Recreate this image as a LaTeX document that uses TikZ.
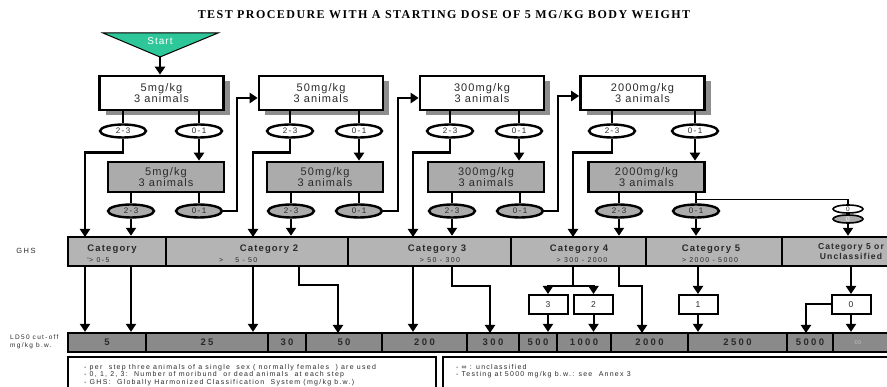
\documentclass[tikz,border=0pt]{standalone}
\usepackage{fontspec}
\setmainfont{Liberation Sans}
\newfontfamily\boxfont[LetterSpace=10]{Liberation Sans}
\newfontfamily\ovalfont[LetterSpace=18]{Liberation Sans}
\newfontfamily\catfont[LetterSpace=12]{Liberation Sans}
\newfontfamily\subfont[LetterSpace=20]{Liberation Sans}
\newfontfamily\numfont[LetterSpace=25]{Liberation Sans}
\newfontfamily\legfont[LetterSpace=18]{Liberation Sans}
\newfontfamily\titlefont[LetterSpace=12]{Liberation Serif}
\usetikzlibrary{arrows.meta,shapes.geometric,shadows}
\definecolor{startgreen}{HTML}{2EC79A}
\definecolor{boxgray}{HTML}{ABABAB}
\definecolor{catgray}{HTML}{B4B4B4}
\definecolor{ldgray}{HTML}{8A8A8A}
\definecolor{shadowgray}{HTML}{8E8E8E}
\definecolor{txt}{HTML}{2A2A2A}
\tikzset{
  line/.style={line width=2.4pt},
  arr/.style={line width=2.4pt,-{Triangle[width=10pt,length=8pt]}},
  line2/.style={line width=2pt},
  arr2/.style={line width=2pt,-{Triangle[width=10pt,length=8pt]}},
  thinline/.style={line width=1.2pt},
  wbox/.style={draw,line width=2.6pt,fill=white,minimum width=124pt,minimum height=34pt,inner sep=0pt,align=center,text=txt,
     font=\boxfont\fontsize{11}{10.5}\selectfont,
     general shadow={fill=shadowgray,shadow xshift=6pt,shadow yshift=-5pt}},
  gbox/.style={draw,line width=2.6pt,fill=boxgray,minimum width=116pt,minimum height=30pt,inner sep=0pt,align=center,text=txt,
     font=\boxfont\fontsize{11}{10.5}\selectfont},
  oval/.style={ellipse,draw,line width=2.4pt,fill=white,minimum width=46pt,minimum height=13pt,inner sep=0pt,text=txt,
     font=\ovalfont\fontsize{8}{8}\selectfont},
  goval/.style={oval,fill=boxgray},
  soval/.style={ellipse,draw,line width=1.6pt,minimum width=30pt,minimum height=8pt,inner sep=0pt,text=white,
     font=\ovalfont\fontsize{6.5}{6.5}\selectfont},
  nbox/.style={draw,line width=2pt,fill=white,minimum width=39pt,minimum height=19pt,inner sep=0pt,text=txt,
     font=\ovalfont\fontsize{8.5}{9}\selectfont},
  catcell/.style={draw,line width=2.4pt,fill=catgray,minimum height=29pt,inner sep=0pt},
  ldcell/.style={draw,line width=2.2pt,fill=ldgray,minimum height=19pt,inner sep=0pt,text=txt,
     font=\numfont\bfseries\fontsize{9.5}{10}\selectfont},
  cattext/.style={text=txt,inner sep=0pt,font=\catfont\bfseries\fontsize{9.5}{10}\selectfont},
  catsub/.style={text=txt,inner sep=0pt,font=\subfont\fontsize{7}{7}\selectfont},
  legend/.style={text=txt,inner sep=0pt,align=left,font=\legfont\fontsize{7}{7.6}\selectfont},
  lab/.style={text=txt,inner sep=0pt,align=left,font=\subfont\fontsize{6.5}{8}\selectfont},
}
\begin{document}
\begin{tikzpicture}[x=1pt,y=-1pt]
\useasboundingbox (0,0) rectangle (887,387);
\clip (0,0) rectangle (887,387);

% title
\node[inner sep=0pt,font=\titlefont\bfseries\fontsize{12}{13}\selectfont] (title) at (444,15)
  {TEST PROCEDURE WITH A STARTING DOSE OF 5 MG/KG BODY WEIGHT};

% start
\path[fill=startgreen,draw=black,line width=1pt] (103,33) -- (218,33) -- (160,57) -- cycle;
\node[inner sep=0pt,text=white,font=\boxfont\fontsize{10}{10}\selectfont] (start) at (160,41.5) {Start};
\coordinate (startapex) at (160,57);

% white boxes
\node[wbox] (w1) at (161.5,93) {5mg/kg\\3 animals};
\node[wbox] (w2) at (321,93) {50mg/kg\\3 animals};
\node[wbox] (w3) at (482,93) {300mg/kg\\3 animals};
\node[wbox] (w4) at (642.5,93) {2000mg/kg\\3 animals};

% gray boxes
\node[gbox] (g1) at (166,177) {5mg/kg\\3 animals};
\node[gbox] (g2) at (325,177) {50mg/kg\\3 animals};
\node[gbox] (g3) at (486,177) {300mg/kg\\3 animals};
\node[gbox] (g4) at (646.5,177) {2000mg/kg\\3 animals};

% row 1 ovals
\node[oval] (o1a) at (123,131) {2-3};
\node[oval] (o1b) at (199,131) {0-1};
\node[oval] (o2a) at (290,131) {2-3};
\node[oval] (o2b) at (359,131) {0-1};
\node[oval] (o3a) at (450,131) {2-3};
\node[oval] (o3b) at (519,131) {0-1};
\node[oval] (o4a) at (612,131) {2-3};
\node[oval] (o4b) at (695,131) {0-1};

% row 2 ovals
\node[goval] (p1a) at (131,211) {2-3};
\node[goval] (p1b) at (199,211) {0-1};
\node[goval] (p2a) at (291,211) {2-3};
\node[goval] (p2b) at (359,211) {0-1};
\node[goval] (p3a) at (452,211) {2-3};
\node[goval] (p3b) at (520,211) {0-1};
\node[goval] (p4a) at (619,211) {2-3};
\node[goval] (p4b) at (696,211) {0-1};
\node[soval,fill=white,text=txt] (z1) at (848,209) {0};
\node[soval,fill=boxgray] (z2) at (848,219) {0};

% GHS categories
\node[lab,font=\subfont\fontsize{7.5}{8}\selectfont] (ghs) at (26,251) {GHS};
\node[catcell,minimum width=98pt] (c1) at (117,251.5) {};
\node[catcell,minimum width=182pt] (c2) at (257,251.5) {};
\node[catcell,minimum width=163pt] (c3) at (429.5,251.5) {};
\node[catcell,minimum width=135pt] (c4) at (578.5,251.5) {};
\node[catcell,minimum width=136pt] (c5) at (714,251.5) {};
\node[catcell,minimum width=142pt] (c6) at (853,251.5) {};
\node[cattext] (ct1) at (112,249) {Category};
\node[catsub,anchor=west] (cs1) at (87,260) {\raisebox{2.5pt}{\fontsize{4}{4}\selectfont\textasciicircum}> 0-5};
\node[cattext] (ct2) at (269,249) {Category 2};
\node[catsub,anchor=west] (cs2) at (219,260) {>\hspace{12pt}5 - 50};
\node[cattext] (ct3) at (437,249) {Category 3};
\node[catsub] (cs3) at (440,260) {> 50 - 300};
\node[cattext] (ct4) at (579,249) {Category 4};
\node[catsub] (cs4) at (582,260) {> 300 - 2000};
\node[cattext] (ct5) at (711,249) {Category 5};
\node[catsub] (cs5) at (710,260) {> 2000 - 5000};
\node[cattext,align=center,font=\catfont\bfseries\fontsize{8.6}{10}\selectfont] (ct6) at (851,252) {Category 5 or\\Unclassified};

% LD50 cells
\node[lab,anchor=west] (ldlab) at (10,342) {LD50 cut-off\\mg/kg b.w.};
\node[ldcell,minimum width=78pt] (l5) at (107,342.5) {5};
\node[ldcell,minimum width=122pt] (l25) at (207,342.5) {25};
\node[ldcell,minimum width=38pt] (l30) at (287,342.5) {30};
\node[ldcell,minimum width=76pt] (l50) at (344,342.5) {50};
\node[ldcell,minimum width=85pt] (l200) at (424.5,342.5) {200};
\node[ldcell,minimum width=52pt] (l300) at (493,342.5) {300};
\node[ldcell,minimum width=38pt] (l500) at (538,342.5) {500};
\node[ldcell,minimum width=54pt] (l1000) at (584,342.5) {1000};
\node[ldcell,minimum width=77pt] (l2000) at (649.5,342.5) {2000};
\node[ldcell,minimum width=99pt] (l2500) at (737.5,342.5) {2500};
\node[ldcell,minimum width=46pt] (l5000) at (810,342.5) {5000};
\node[ldcell,minimum width=62pt] (linf) at (864,342.5) {};
\node[inner sep=0pt,text=catgray,font=\fontsize{10}{10}\selectfont] (inf) at (858,343) {∞};

% small result boxes
\node[nbox] (n3) at (548,304.5) {3};
\node[nbox] (n2) at (593.5,304.5) {2};
\node[nbox] (n1) at (698,304.5) {1};
\node[nbox] (n0) at (851,304.5) {0};

% legend boxes
\draw[line width=2pt] (68,357) rectangle (436,400);
\draw[line width=2pt] (443,357) rectangle (900,400);
\node[legend,anchor=north west] (leg1) at (84,364)
  {- per\ \ step three animals of a single\ \ sex ( normally females\ \ ) are used\\
   - 0, 1, 2, 3:\ \ Number of moribund\ \ or dead animals\ \ at each step\\
   - GHS:\ \ Globally Harmonized Classification\ \ System (mg/kg b.w.)};
\node[legend,anchor=north west] (leg2) at (456,364)
  {- ∞ : unclassified\\- Testing at 5000 mg/kg b.w.: see\ \ Annex 3};

% target coordinates
\coordinate (t1) at (85,237);
\coordinate (t2) at (253,237);
\coordinate (t3) at (413,237);
\coordinate (t4) at (573,237);
\coordinate (u1) at (299,266);
\coordinate (v1) at (338,333);
\coordinate (v2) at (490,333);
\coordinate (v3) at (642,333);
\coordinate (v4) at (806,333);

% start -> first box
\draw[arr] (startapex) -- (startapex |- w1.north);

% boxes -> row1 ovals
\foreach \b/\x in {w1/o1a,w1/o1b,w2/o2a,w2/o2b,w3/o3a,w3/o3b,w4/o4a,w4/o4b}
  \draw[line] (\x |- \b.south) -- (\x.north);
% row1 0-1 -> gray boxes
\draw[arr] (o1b.south) -- (o1b |- g1.north);
\draw[arr] (o2b.south) -- (o2b |- g2.north);
\draw[arr] (o3b.south) -- (o3b |- g3.north);
\draw[arr] (o4b.south) -- (o4b |- g4.north);
% row1 2-3 -> categories
\draw[arr] (o1a.south) -- ++(0,14) -| (t1);
\draw[arr] (o2a.south) -- ++(0,14) -| (t2);
\draw[arr] (o3a.south) -- ++(0,14) -| (t3);
\draw[arr] (o4a.south) -- ++(0,14) -| (t4);
% gray boxes -> row2 ovals
\foreach \b/\x in {g1/p1a,g1/p1b,g2/p2a,g2/p2b,g3/p3a,g3/p3b,g4/p4a,g4/p4b}
  \draw[line] (\x |- \b.south) -- (\x.north);
% row2 2-3 -> categories
\draw[arr] (p1a.south) -- (p1a |- c1.north);
\draw[arr] (p2a.south) -- (p2a |- c2.north);
\draw[arr] (p3a.south) -- (p3a |- c3.north);
\draw[arr] (p4a.south) -- (p4a |- c4.north);
% row2 0-1 -> next dose
\draw[arr] (p1b.east) -- ++(14,0) |- ([yshift=-5pt]w2.west);
\draw[arr] (p2b.east) -- ++(15,0) |- ([yshift=-5pt]w3.west);
\draw[arr] (p3b.east) -- ++(14,0) |- ([yshift=-3pt]w4.west);
\draw[arr] (p4b.south) -- (p4b |- c5.north);
\draw[thinline] ([yshift=4pt]p4b.north) -| (z1.north);
\draw[arr] (z2.south) -- (z2 |- c6.north);

% categories -> LD50
\draw[arr2] (t1 |- c1.south) -- (t1 |- l5.north);
\draw[arr2] (p1a |- c1.south) -- (p1a |- l5.north);
\draw[arr2] (t2 |- c2.south) -- (t2 |- l25.north);
\draw[arr2] (u1) -- ++(0,19) -| (v1);
\draw[arr2] (t3 |- c3.south) -- (t3 |- l200.north);
\draw[arr2] (p3a |- c3.south) -- ++(0,19) -| (v2);
\draw[line2] (t4 |- c4.south) -- ++(0,19) coordinate (k4);
\draw[arr2] (k4) -| (n3.north);
\draw[arr2] (k4) -| (n2.north);
\draw[arr2] (n3.south) -- (n3 |- l500.north);
\draw[arr2] (n2.south) -- (n2 |- l1000.north);
\draw[arr2] (p4a |- c4.south) -- ++(0,19) -| (v3);
\draw[arr2] (n1 |- c5.south) -- (n1.north);
\draw[arr2] (n1.south) -- (n1 |- l2500.north);
\draw[arr2] (n0 |- c6.south) -- (n0.north);
\draw[arr2] (n0.west) -| (v4);
\draw[arr2] (n0.south) -- (n0 |- linf.north);
\end{tikzpicture}
\end{document}
